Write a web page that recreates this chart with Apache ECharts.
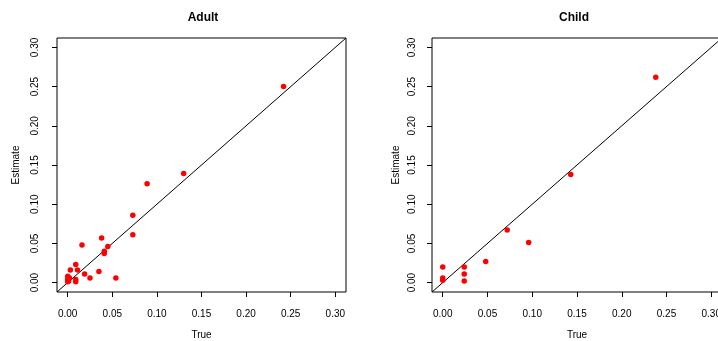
<!DOCTYPE html>
<html>
<head>
<meta charset="utf-8">
<script src="https://cdn.jsdelivr.net/npm/echarts@6/dist/echarts.min.js"></script>
<style>html,body{margin:0;padding:0;background:#fff;}#c{width:718px;height:341px;}</style>
</head>
<body>
<div id="c"></div>
<script>
// Data
var panelTitles = ['Adult', 'Child'];
var tickValues = [0, 0.05, 0.10, 0.15, 0.20, 0.25, 0.30];
var tickLabels = ['0.00', '0.05', '0.10', '0.15', '0.20', '0.25', '0.30'];
var adultTrue = [0.242, 0.130, 0.089, 0.073, 0.073, 0.038, 0.016, 0.045, 0.041, 0.041, 0.009, 0.003, 0.011, 0.019, 0.035, 0.025, 0.054, 0.000, 0.000, 0.002, 0.009, 0.009, 0.000, 0.001];
var adultEst  = [0.250, 0.139, 0.126, 0.086, 0.061, 0.057, 0.048, 0.046, 0.040, 0.037, 0.023, 0.016, 0.016, 0.011, 0.014, 0.006, 0.006, 0.008, 0.004, 0.006, 0.004, 0.001, 0.001, 0.002];
var childTrue = [0.238, 0.143, 0.096, 0.072, 0.048, 0.000, 0.024, 0.024, 0.024, 0.000, 0.000];
var childEst  = [0.262, 0.138, 0.051, 0.067, 0.027, 0.020, 0.020, 0.011, 0.002, 0.006, 0.003];
var axisMin = -0.012, axisMax = 0.312;

function pairs(xs, ys) { return xs.map(function (x, i) { return [x, ys[i]]; }); }

var font = 'Liberation Sans, Arial, Helvetica, sans-serif';
function makeAxis(idx, isY) {
  return {
    type: 'value', gridIndex: idx, min: axisMin, max: axisMax,
    name: isY ? 'Estimate' : 'True', nameLocation: 'middle',
    nameGap: isY ? (idx === 0 ? 36 : 31) : 38,
    nameTextStyle: { color: '#000', fontSize: 10, fontFamily: font },
    axisLine: { show: false, onZero: false },
    splitLine: { show: false },
    axisTick: { show: true, inside: false, length: 5, lineStyle: { color: '#000', width: 1 }, customValues: tickValues },
    axisLabel: {
      show: true, color: '#000', fontSize: 10, fontFamily: font,
      margin: isY ? (idx === 0 ? 17 : 15) : 17, rotate: isY ? 90 : 0,
      customValues: tickValues,
      formatter: function (v) { var i = tickValues.indexOf(v); return i >= 0 ? tickLabels[i] : v.toFixed(2); }
    }
  };
}

var grids = [
  { left: 57, top: 38, width: 289, height: 254, show: true, borderColor: '#000', borderWidth: 1, backgroundColor: 'transparent', containLabel: false, outerBoundsMode: 'none' },
  { left: 432, top: 38, width: 290, height: 254, show: true, borderColor: '#000', borderWidth: 1, backgroundColor: 'transparent', containLabel: false, outerBoundsMode: 'none' }
];

var chart = echarts.init(document.getElementById('c'), null, { renderer: 'canvas' });
chart.setOption({
  animation: false,
  backgroundColor: '#fff',
  title: [
    { text: panelTitles[0], left: 198, top: 7, textAlign: 'center', textStyle: { fontSize: 12, fontWeight: 'bold', color: '#000', fontFamily: font } },
    { text: panelTitles[1], left: 569, top: 7, textAlign: 'center', textStyle: { fontSize: 12, fontWeight: 'bold', color: '#000', fontFamily: font } }
  ],
  grid: grids,
  xAxis: [makeAxis(0, false), makeAxis(1, false)],
  yAxis: [makeAxis(0, true), makeAxis(1, true)],
  series: [
    { type: 'line', xAxisIndex: 0, yAxisIndex: 0, data: [[axisMin, axisMin], [axisMax, axisMax]], symbol: 'none', lineStyle: { color: '#000', width: 1 }, silent: true, z: 1 },
    { type: 'line', xAxisIndex: 1, yAxisIndex: 1, data: [[axisMin, axisMin], [axisMax, axisMax]], symbol: 'none', lineStyle: { color: '#000', width: 1 }, silent: true, z: 1 },
    { type: 'scatter', xAxisIndex: 0, yAxisIndex: 0, data: pairs(adultTrue, adultEst), symbolSize: 5.5, itemStyle: { color: '#ff0000', opacity: 1 }, z: 2 },
    { type: 'scatter', xAxisIndex: 1, yAxisIndex: 1, data: pairs(childTrue, childEst), symbolSize: 5.5, itemStyle: { color: '#ff0000', opacity: 1 }, z: 2 }
  ]
});
</script>
</body>
</html>
